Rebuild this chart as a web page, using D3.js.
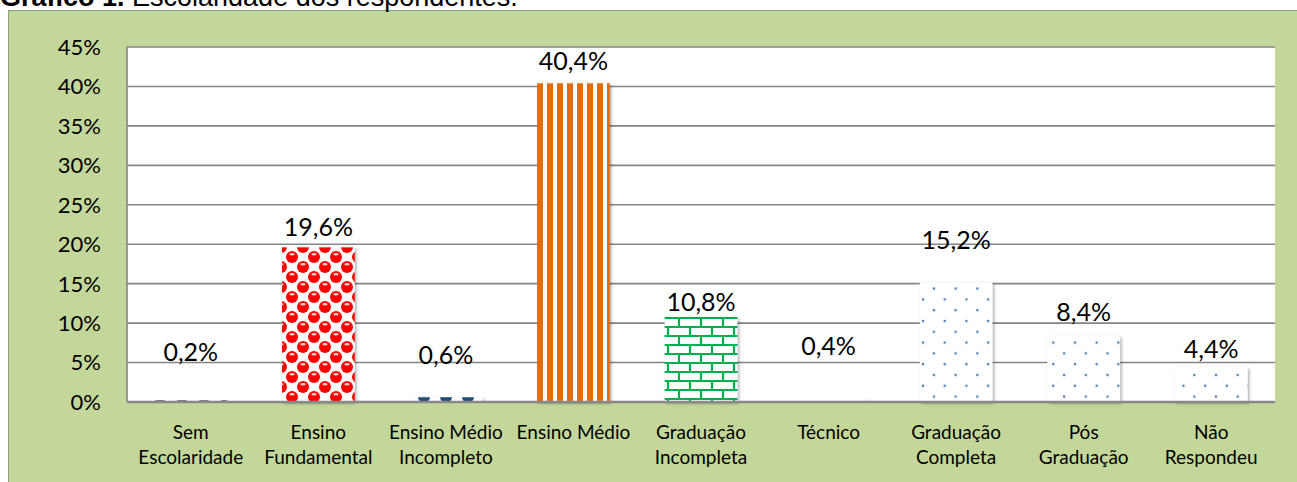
<!DOCTYPE html>
<html>
<head>
<meta charset="utf-8">
<script src="https://cdn.jsdelivr.net/npm/d3@7"></script>
<style>
  body { margin: 0; background: #fff; }
  svg { display: block; }
  text { font-family: Lato, "Open Sans", sans-serif; fill: #000; }
</style>
</head>
<body>
<svg width="1297" height="482"></svg>
<script>
// data
var categories = [
  ["Sem", "Escolaridade"],
  ["Ensino", "Fundamental"],
  ["Ensino Médio", "Incompleto"],
  ["Ensino Médio"],
  ["Graduação", "Incompleta"],
  ["Técnico"],
  ["Graduação", "Completa"],
  ["Pós", "Graduação"],
  ["Não", "Respondeu"]
];
var values = [0.2, 19.6, 0.6, 40.4, 10.8, 0.4, 15.2, 8.4, 4.4];
// where each value label sits, in percent units (labels were placed by hand)
var labelAt = [6.3, 22.2, 6.0, 43.2, 12.7, 7.1, 20.5, 11.4, 6.7];
var yTicks = [0, 5, 10, 15, 20, 25, 30, 35, 40, 45];
var fills = ["url(#navyBalls)", "url(#redBalls)", "url(#blueBalls)", "url(#stripes)",
             "url(#bricks)", "#fff", "url(#dots)", "url(#dots)", "url(#dots)"];

var svg = d3.select("svg"),
    margin = {left: 127, right: 22, top: 47, bottom: 80},
    width = 1297 - margin.left - margin.right,
    height = 482 - margin.top - margin.bottom;

var fmt = function(v) { return d3.format(".1f")(v).replace(".", ",") + "%"; };

// green panel
svg.append("rect")
    .attr("x", 8.5).attr("y", 10.5)
    .attr("width", 1300).attr("height", 480)
    .style("fill", "#c4d79b")
    .style("stroke", "#8d9c82")
    .style("stroke-width", 1);

// title, cut off at the top like the original
var title = svg.append("text")
    .attr("x", 0).attr("y", 6)
    .style("font-family", "'Liberation Sans', Arial, sans-serif")
    .style("font-size", "27px");
title.append("tspan").style("font-weight", "bold").text("Gráfico 1.");
title.append("tspan").text(" Escolaridade dos respondentes.");

var defs = svg.append("defs");

var shadow = defs.append("filter").attr("id", "shadow")
    .attr("x", "-20%").attr("y", "-20%").attr("width", "140%").attr("height", "140%");
shadow.append("feDropShadow")
    .attr("dx", 1.5).attr("dy", 1.5).attr("stdDeviation", 1.8)
    .attr("flood-color", "#000").attr("flood-opacity", 0.35);

function balls(id, color, w, h, r) {
  var p = defs.append("pattern").attr("id", id)
      .attr("patternUnits", "userSpaceOnUse")
      .attr("width", w).attr("height", h);
  p.append("rect").attr("width", w).attr("height", h).style("fill", "#fff");
  [[0, 0], [w, 0], [0, h], [w, h], [w / 2, h / 2]].forEach(function(c) {
    p.append("circle").attr("cx", c[0]).attr("cy", c[1]).attr("r", r).style("fill", color);
    p.append("ellipse").attr("cx", c[0]).attr("cy", c[1] - r * 0.45)
        .attr("rx", r * 0.45).attr("ry", r * 0.2).style("fill", "#fff").style("opacity", 0.8);
  });
}
balls("redBalls", "#ff0000", 22, 20, 6);
balls("blueBalls", "#1f4e79", 22, 20, 6);
balls("navyBalls", "#1f2a44", 22, 20, 6);

var st = defs.append("pattern").attr("id", "stripes")
    .attr("patternUnits", "userSpaceOnUse").attr("width", 10).attr("height", 10);
st.append("rect").attr("width", 10).attr("height", 10).style("fill", "#fff");
st.append("rect").attr("x", 0).attr("width", 6).attr("height", 10).style("fill", "#e46c0a");

var br = defs.append("pattern").attr("id", "bricks")
    .attr("patternUnits", "userSpaceOnUse").attr("width", 22).attr("height", 18);
br.append("rect").attr("width", 22).attr("height", 18).style("fill", "#fff");
br.append("path")
    .attr("d", "M0,1H22M0,10H22M2,1V10M13,10V19")
    .style("stroke", "#00b050").style("stroke-width", 2.2).style("fill", "none");

var dt = defs.append("pattern").attr("id", "dots")
    .attr("patternUnits", "userSpaceOnUse").attr("width", 21.7).attr("height", 21.6);
dt.append("rect").attr("width", 21.7).attr("height", 21.6).style("fill", "#fff");
[[4, 4], [14.85, 14.8]].forEach(function(c) {
  dt.append("circle").attr("cx", c[0]).attr("cy", c[1]).attr("r", 1.3).style("fill", "#4f81bd");
});

var g = svg.append("g").attr("transform", "translate(" + margin.left + "," + margin.top + ")");

var x = d3.scaleBand()
    .domain(d3.range(values.length))
    .range([0, width])
    .paddingInner(0.43)
    .paddingOuter(0.215);

var y = d3.scaleLinear().domain([0, 45]).range([height, 0]);

g.append("rect")
    .attr("width", width).attr("height", height)
    .style("fill", "#fff");

// gridlines
g.selectAll(".grid")
  .data(yTicks.filter(function(d) { return d > 0; }))
  .enter().append("line")
    .attr("class", "grid")
    .attr("x1", 0).attr("x2", width)
    .attr("y1", function(d) { return y(d); })
    .attr("y2", function(d) { return y(d); })
    .style("stroke", "#858585").style("stroke-width", 1.6);

g.append("line")
    .attr("x1", 0).attr("x2", 0).attr("y1", 0).attr("y2", height)
    .style("stroke", "#858585").style("stroke-width", 1.6);

// y tick labels
g.selectAll(".ytick")
  .data(yTicks)
  .enter().append("text")
    .attr("class", "ytick")
    .attr("x", -26)
    .attr("y", function(d) { return y(d); })
    .attr("dy", "0.36em")
    .attr("text-anchor", "end")
    .style("font-size", "22px")
    .text(function(d) { return d + "%"; });

// bars
g.selectAll(".bar")
  .data(values)
  .enter().append("rect")
    .attr("class", "bar")
    .attr("x", function(d, i) { return x(i); })
    .attr("width", x.bandwidth())
    .attr("y", function(d) { return y(d); })
    .attr("height", function(d) { return height - y(d); })
    .attr("filter", "url(#shadow)")
    .style("fill", function(d, i) { return fills[i]; });

// x axis line
g.append("line")
    .attr("x1", 0).attr("x2", width).attr("y1", height).attr("y2", height)
    .style("stroke", "#888").style("stroke-width", 2.5);

// value labels
g.selectAll(".vlabel")
  .data(values)
  .enter().append("text")
    .attr("class", "vlabel")
    .attr("x", function(d, i) { return x(i) + x.bandwidth() / 2; })
    .attr("y", function(d, i) { return y(labelAt[i]); })
    .attr("dy", "0.36em")
    .attr("text-anchor", "middle")
    .style("font-size", "25px")
    .text(fmt);

// category labels
var cat = g.selectAll(".cat")
  .data(categories)
  .enter().append("text")
    .attr("class", "cat")
    .attr("text-anchor", "middle")
    .style("font-size", "19px");

cat.selectAll("tspan")
  .data(function(d, i) { return d.map(function(s) { return {s: s, i: i}; }); })
  .enter().append("tspan")
    .attr("x", function(d) { return x(d.i) + x.bandwidth() / 2; })
    .attr("y", function(d, j) { return height + 37 + j * 25; })
    .text(function(d) { return d.s; });
</script>
</body>
</html>
